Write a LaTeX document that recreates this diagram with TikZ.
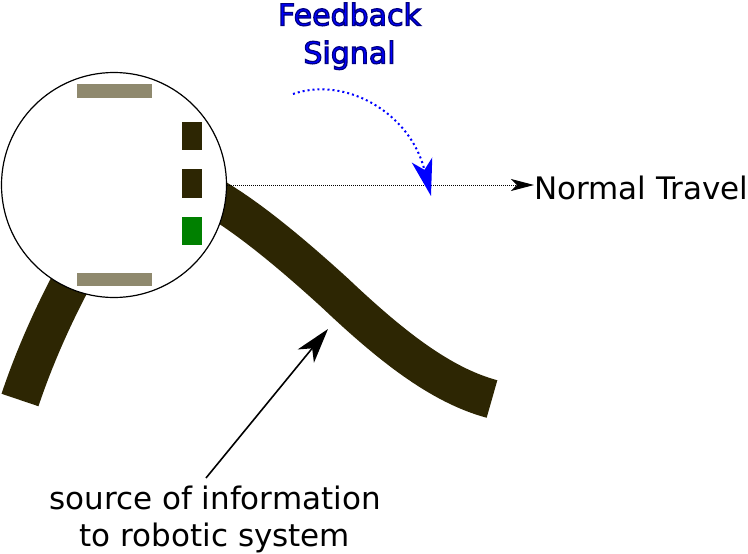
\documentclass[tikz,border=0pt]{standalone}
\usepackage{fontspec}
\setmainfont{DejaVu Sans}
\usetikzlibrary{arrows.meta}
\definecolor{band}{RGB}{45,38,3}
\definecolor{bar}{RGB}{143,137,110}
\definecolor{lgreen}{RGB}{0,128,0}
\definecolor{fbblue}{RGB}{0,0,255}
\newcommand{\bigtext}{\fontsize{31}{37}\selectfont}
\newcommand{\fbtext}{\fontsize{30}{38}\selectfont}
\begin{document}
\begin{tikzpicture}[x=1pt,y=-1pt,
  bandline/.style={line width=39pt, draw=band},
  barbox/.style={fill=bar},
  sensorbox/.style={fill=band},
  label/.style={inner sep=0pt, font=\bigtext, text=black}]
\useasboundingbox (0,0) rectangle (748,554);
% bands (track)
\draw[bandline] (200,190) .. controls (240,210) and (290,252) .. (335,293)
  .. controls (390,345) and (440,385) .. (492,399);
\draw[bandline] (95,240) .. controls (70,280) and (40,340) .. (20,400);
% robot body
\node[circle, draw=black, line width=1.2pt, fill=white, minimum size=225pt, inner sep=0pt] (wheel) at (114,185) {};
\fill[barbox] (77,84) rectangle (152,98);
\fill[barbox] (77,273) rectangle (152,286);
\fill[sensorbox] (182,122) rectangle (202,150);
\fill[sensorbox] (182,169) rectangle (202,198);
\fill[lgreen] (182,217) rectangle (202,245);
% normal travel
\node[label, anchor=base west] (nt) at (534,199) {Normal Travel};
\draw[line width=1pt, dash pattern=on 1pt off 1pt, -{Stealth[length=23pt,width=12pt,inset=6pt]}]
  (wheel.east) -- (wheel.east -| nt.west);
% source label
\node[label, align=center, anchor=north] (src) at (215,485.5) {source of information\\to robotic system};
\coordinate (srcstart) at (206,478);
\coordinate (bandpt) at (328,329);
\draw[line width=1.6pt, -{Stealth[length=35pt,width=21pt,inset=10pt]}] (srcstart) -- (bandpt);
% feedback
\node[inner sep=0pt, font=\fbtext, text=fbblue, align=center, anchor=north] (fb) at (349.5,2.5)
  {\special{pdf:literal direct 2 Tr 1.2 w 0 0 0.5 RG}Feedback\\Signal\special{pdf:literal direct 0 Tr}};
\coordinate (fbstart) at (293,94);
\coordinate (fbend) at (431,196);
\draw[blue, line width=2pt, dash pattern=on 2pt off 3pt, -{Stealth[length=37pt,width=21pt,inset=10pt]}]
  (fbstart) .. controls (345,76) and (410,112) .. (fbend);
\end{tikzpicture}
\end{document}
